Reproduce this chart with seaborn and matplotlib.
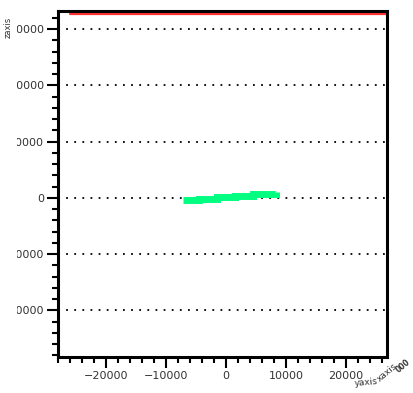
import matplotlib
matplotlib.use("Agg")
import matplotlib.pyplot as plt
import seaborn as sns
import pandas as pd
from matplotlib.ticker import MultipleLocator
from matplotlib.transforms import Bbox, TransformedBbox

# data
green_x = [-7200, -4500, -1500, 1500, 4500, 8300]
green_y = [-400, -150, 100, 350, 600, 950]
red_x = [-26000, 26600]
red_y = [32700, 32700]
xticks = [-20000, -10000, 0, 10000, 20000]
yticks = [-20000, -10000, 0, 10000, 20000, 30000]

sns.set_theme(style="white")
plt.rcParams['font.family'] = ['DejaVu Sans']

fig = plt.figure(figsize=(4.13, 3.93), dpi=100)
ax = fig.add_axes([58/413, 1 - 357/393, (387-58)/413, (357-11)/393])

sns.lineplot(x=red_x, y=red_y, ax=ax, color="#ff3030", linewidth=1.6,
             sort=False, estimator=None)
sns.lineplot(x=green_x, y=green_y, ax=ax, color="#00ff80", linewidth=5,
             sort=False, estimator=None, drawstyle="steps-post",
             solid_capstyle="butt", solid_joinstyle="miter")

ax.set_xlim(-28000, 26800)
ax.set_ylim(-28300, 33200)
ax.set_xticks(xticks)
ax.set_yticks(yticks)
ax.xaxis.set_minor_locator(MultipleLocator(2000))
ax.yaxis.set_minor_locator(MultipleLocator(2000))
ax.tick_params(axis="both", which="major", direction="out", length=8,
               width=1.5, color="black", labelsize=8, pad=2, labelcolor="#333333")
ax.tick_params(axis="both", which="minor", direction="out", length=4.5,
               width=1.5, color="black")
ax.tick_params(left=True, bottom=True, which="both")

for s in ax.spines.values():
    s.set_color("black")
    s.set_linewidth(2.2)

for yv in yticks:
    ax.axhline(yv, color="black", linewidth=1.3, linestyle=(0, (1, 3.5)), zorder=0)

ax.set_xlabel("")
ax.set_ylabel("")

# clip y tick labels at left like the reference
clip = TransformedBbox(Bbox([[17/413, 0], [1, 1]]), fig.transFigure)
for lab in ax.get_yticklabels():
    lab.set_clip_box(clip)
    lab.set_clip_on(True)

fig.text(8/413, 1 - 27/393, "zaxis", rotation=90, fontsize=6, ha="center", va="center", color="#333333")
fig.text(366/413, 1 - 382/393, "yaxis", rotation=5, fontsize=6.5, ha="center", va="center", color="#333333")
fig.text(387/413, 1 - 373/393, "xaxis", rotation=40, fontsize=6.5, ha="center", va="center", color="#333333")
fig.text(403/413, 1 - 366/393, "000", rotation=40, fontsize=5.5, fontweight="bold", ha="center", va="center", color="#333333")

fig.savefig("out.png", dpi=100)
